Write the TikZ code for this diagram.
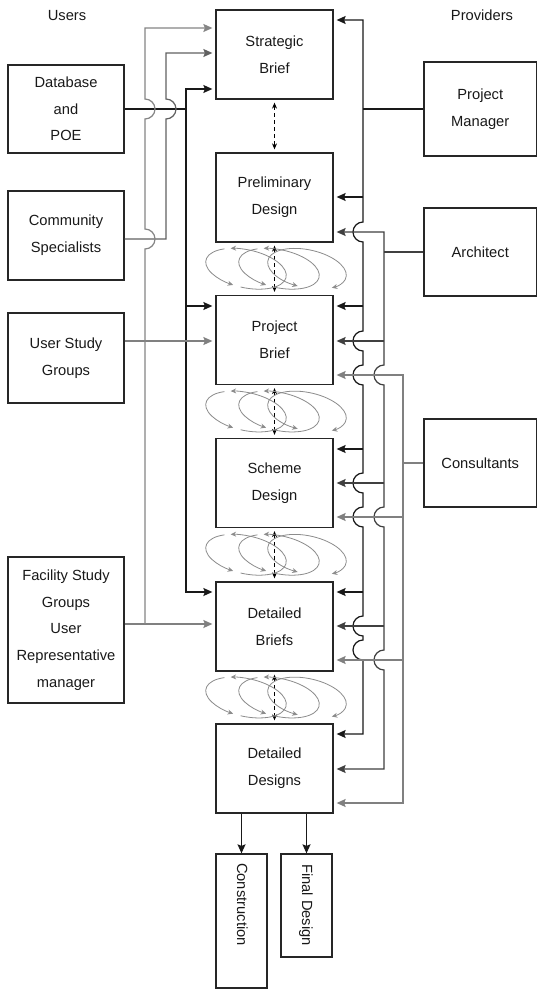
\documentclass[tikz,border=0pt]{standalone}
\usepackage{fontspec}
\setmainfont{Liberation Sans}
\usetikzlibrary{arrows.meta}
\newcommand\diagfont{\fontsize{14.7pt}{26.7pt}\selectfont}
\tikzset{
  head/.tip={Stealth[length=9pt,width=8pt,inset=1.5pt]},
  small/.tip={Stealth[length=6pt,width=5pt]},
  loophead/.tip={Stealth[length=5.5pt,width=5pt]},
}

\begin{document}
\begin{tikzpicture}[x=1pt,y=1pt,
  box/.style={draw=black!85, line width=1.3pt, inner sep=0pt, align=center,
    font=\diagfont, text=black!90},
  mainbox/.style={box, minimum width=117pt, minimum height=89pt},
  userbox/.style={box, minimum width=116pt},
  provbox/.style={box, minimum width=112.5pt},
  lbl/.style={font=\diagfont, text=black!90, inner sep=0pt},
  pointer/.style={-head, shorten >=3pt},
  twoway/.style={head-head, shorten <=3pt, shorten >=3pt},
  conn/.style={line width=1.2pt, line join=miter},
  linA/.style={conn, draw=black!90},
  linB/.style={conn, draw=black!75},
  linC/.style={conn, draw=black!50},
  linL1/.style={conn, draw=black!48},
  linL2/.style={conn, draw=black!62},
  dasharr/.style={draw=black, line width=0.9pt, dash pattern=on 4pt off 3pt,
    small-small, shorten <=3pt, shorten >=3pt},
  loopline/.style={draw=black!45, line width=0.8pt},
  looptip/.style={loopline, -loophead},
  looptwo/.style={loopline, loophead-loophead},
]
\fill[white] (0,0) rectangle (538,-992);
\useasboundingbox (0,0) rectangle (538,-992);

% column headings
\node[lbl, anchor=base] (users) at (67,-20.7) {Users};
\node[lbl, anchor=base] (providers) at (482,-20.7) {Providers};

% design stages
\node[mainbox] (sb) at (274.5,-54.5) {Strategic\\Brief};
\node[mainbox] (pd) at (274.5,-197.5) {Preliminary\\Design};
\node[mainbox] (pb) at (274.5,-340) {Project\\Brief};
\node[mainbox] (sd) at (274.5,-483) {Scheme\\Design};
\node[mainbox] (db) at (274.5,-626.5) {Detailed\\Briefs};
\node[mainbox] (dd) at (274.5,-768.5) {Detailed\\Designs};

% outcomes
\node[box, minimum width=51pt, minimum height=134pt] (con) at (241.5,-921) {};
\node[box, minimum width=51pt, minimum height=103pt] (fin) at (306.5,-905.5) {};
\node[lbl, rotate=-90, anchor=base west] (conlbl) at (237,-863) {Construction};
\node[lbl, rotate=-90, anchor=base west] (finlbl) at (302,-864) {Final Design};

% users
\node[userbox, minimum height=88pt] (dbp) at (66,-109) {Database\\and\\POE};
\node[userbox, minimum height=89pt] (cs) at (66,-235.5) {Community\\Specialists};
\node[userbox, minimum height=90pt] (usg) at (66,-358) {User Study\\Groups};
\node[userbox, minimum height=146pt] (fsg) at (66,-630) {Facility Study\\Groups\\User\\Representative\\manager};

% providers
\node[provbox, minimum height=94pt] (pm) at (480.25,-109) {Project\\Manager};
\node[provbox, minimum height=88pt] (arch) at (480.25,-252) {Architect};
\node[provbox, minimum height=88pt] (cons) at (480.25,-463) {Consultants};

% bus positions
\coordinate (busA) at (363,0);
\coordinate (busB) at (384,0);
\coordinate (busC) at (403,0);
\coordinate (busL3) at (186,0);

% ---------- provider side ----------
% project manager bus (hops over the architect and consultant feeds)
\draw[linA, twoway] (dd.east |- 0,-734) -- (363,-734) -- (363,-660)
  arc[start angle=-90,end angle=-270,radius=10pt] -- (363,-636)
  arc[start angle=-90,end angle=-270,radius=10pt] -- (363,-527)
  arc[start angle=-90,end angle=-270,radius=10pt] -- (363,-493)
  arc[start angle=-90,end angle=-270,radius=10pt] -- (363,-385)
  arc[start angle=-90,end angle=-270,radius=10pt] -- (363,-351)
  arc[start angle=-90,end angle=-270,radius=10pt] -- (363,-242)
  arc[start angle=-90,end angle=-270,radius=10pt] -- (363,-20) -- (sb.east |- 0,-20);
\draw[linA] (pm.west) -- (pm.west -| busA);
\foreach \y/\n in {197/pd,306/pb,449/sd,592/db}
  \draw[linA, pointer] (363,-\y) -- (\n.east |- 0,-\y);

% architect bus (hops over the consultant feeds)
\draw[linB, twoway] (pd.east |- 0,-232) -- (384,-232) -- (384,-365)
  arc[start angle=90,end angle=270,radius=10pt] -- (384,-507)
  arc[start angle=90,end angle=270,radius=10pt] -- (384,-650)
  arc[start angle=90,end angle=270,radius=10pt] -- (384,-769) -- (dd.east |- 0,-769);
\draw[linB] (arch.west) -- (arch.west -| busB);
\foreach \y/\n in {341/pb,483/sd,626/db}
  \draw[linB, pointer] (384,-\y) -- (\n.east |- 0,-\y);

% consultants bus
\draw[linC, twoway] (pb.east |- 0,-375) -- (403,-375) -- (403,-803) -- (dd.east |- 0,-803);
\draw[linC] (cons.west) -- (cons.west -| busC);
\foreach \y/\n in {517/sd,660/db}
  \draw[linC, pointer] (403,-\y) -- (\n.east |- 0,-\y);

% ---------- user side ----------
\draw[linA] (dbp.east) -- (dbp.east -| busL3);
\draw[linA, twoway] (sb.west |- 0,-89) -- (186,-89) -- (186,-592) -- (db.west |- 0,-592);
\draw[linA, pointer] (186,-306) -- (pb.west |- 0,-306);

\draw[linL2, pointer] (cs.east |- 0,-239) -- (166,-239) -- (166,-119)
  arc[start angle=-90,end angle=90,radius=10pt] -- (166,-53) -- (sb.west |- 0,-53);

\draw[linC, pointer] (usg.east |- 0,-341) -- (pb.west |- 0,-341);
\draw[linC, pointer] (fsg.east |- 0,-624) -- (db.west |- 0,-624);
\draw[linL1, pointer] (145,-624) -- (145,-249)
  arc[start angle=-90,end angle=90,radius=10pt] -- (145,-119)
  arc[start angle=-90,end angle=90,radius=10pt] -- (145,-28) -- (sb.west |- 0,-28);

% ---------- between stages ----------
\draw[dasharr] (sb.south) -- (pd.north);
\draw[dasharr] (pd.south) -- (pb.north);
\draw[dasharr] (pb.south) -- (sd.north);
\draw[dasharr] (sd.south) -- (db.north);
\draw[dasharr] (db.south) -- (dd.north);

% iteration loops
\foreach \yc in {-268.75,-411.5,-554.75,-697.5}{
  \foreach \cx in {246,279}{
    \begin{scope}[shift={(\cx,\yc)}, rotate=-12]
      \draw[looptip] (128:41pt and 19pt) arc[start angle=128,end angle=257,x radius=41pt,y radius=19pt];
      \draw[looptip] (268:41pt and 19pt) arc[start angle=268,end angle=478,x radius=41pt,y radius=19pt];
    \end{scope}
  }
  \begin{scope}[shift={(307,\yc)}, rotate=-12]
    \draw[looptwo] (262:40pt and 19pt) arc[start angle=262,end angle=-45,x radius=40pt,y radius=19pt];
  \end{scope}
}

% outputs
\draw[linA, -head] (con.north |- dd.south) -- (con.north);
\draw[linA, -head] (fin.north |- dd.south) -- (fin.north);
\end{tikzpicture}
\end{document}
